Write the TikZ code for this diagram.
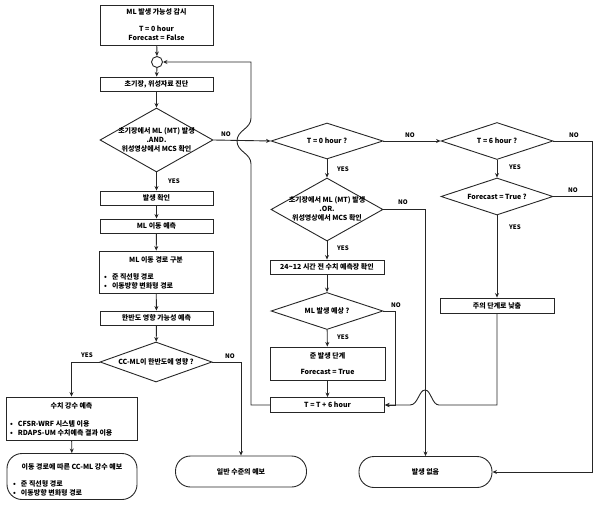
\documentclass[tikz,border=0pt]{standalone}
\usepackage{fontspec}
\setmainfont{Noto Sans CJK KR}
\usetikzlibrary{arrows.meta,shapes.geometric}
\begin{document}
\begin{tikzpicture}[x=1pt,y=-1pt,
  font=\fontsize{7}{9}\selectfont\bfseries,
  ln/.style={draw=black!85, line width=0.9pt},
  arr/.style={ln, -{Stealth[length=4.5pt,width=4pt]}},
  box/.style={ln, rectangle, inner sep=0pt, align=center},
  dia/.style={ln, diamond, inner sep=0pt},
  term/.style={ln, rectangle, rounded corners=15pt, inner sep=0pt, align=center},
  txt/.style={inner sep=0pt, align=center},
  lst/.style={inner sep=0pt, align=left, anchor=west},
  lab/.style={inner sep=0pt, font=\fontsize{6.2}{7}\selectfont\bfseries}
]
\useasboundingbox (0,0) rectangle (601,510);

% ---- left column ----
\node[box, minimum width=113pt, minimum height=40pt] (b1) at (156.5,25) {ML 발생 가능성 감시\\[8pt]T = 0 hour\\Forecast = False};
\node[ln, circle, minimum size=11pt, inner sep=0pt] (circ) at (157,62) {};
\node[box, minimum width=113pt, minimum height=14pt] (b2) at (156.5,84) {초기장, 위성자료 진단};
\node[dia, minimum width=113pt, minimum height=64pt] (d1) at (156.5,140) {};
\node[txt] (d1t) at (156.5,139.5) {초기장에서 ML (MT) 발생\\.AND.\\위성영상에서 MCS 확인};
\node[box, minimum width=113pt, minimum height=14pt] (b3) at (156.5,198) {발생 확인};
\node[box, minimum width=113pt, minimum height=14pt] (b4) at (156.5,226) {ML 이동 예측};
\node[box, minimum width=114pt, minimum height=42pt] (b5) at (156,272) {};
\node[txt] (b5t) at (156,260) {ML 이동 경로 구분};
\node[lst] (b5l) at (104,281.5) {•\hspace{5pt}준 직선형 경로\\•\hspace{5pt}이동방향 변화형 경로};
\node[box, minimum width=113pt, minimum height=14pt] (b6) at (156.5,318) {한반도 영향 가능성 예측};
\node[dia, minimum width=112pt, minimum height=40pt] (d2) at (156,362) {};
\node[txt] (d2t) at (156,362) {CC-ML이 한반도에 영향 ?};

\node[box, minimum width=131pt, minimum height=43pt] (b7) at (71.5,418.5) {};
\node[txt] (b7t) at (71.5,406) {수치 강수 예측};
\node[lst] (b7l) at (10,428) {•\hspace{5pt}CFSR-WRF 시스템 이용\\•\hspace{5pt}RDAPS-UM 수치예측 결과 이용};
\node[term, minimum width=130pt, minimum height=46pt] (t1) at (72,476.5) {};
\node[txt] (t1t) at (72,467) {이동 경로에 따른 CC-ML 강수 예보};
\node[lst] (t1l) at (13,488.5) {•\hspace{5pt}준 직선형 경로\\•\hspace{5pt}이동방향 변화형 경로};

\node[term, minimum width=131pt, minimum height=31pt] (t2) at (241,471.5) {일반 수준의 예보};

% ---- middle column ----
\node[dia, minimum width=112pt, minimum height=36pt] (d3) at (327,141) {};
\node[txt] (d3t) at (327,141) {T = 0 hour ?};
\node[dia, minimum width=112pt, minimum height=63pt] (d4) at (327,209.5) {};
\node[txt] (d4t) at (327,209) {초기장에서 ML (MT) 발생\\.OR.\\위성영상에서 MCS 확인};
\node[box, minimum width=114pt, minimum height=14pt] (b8) at (327,267) {24\textasciitilde12 시간 전 수치 예측장 확인};
\node[dia, minimum width=112pt, minimum height=37pt] (d5) at (327,311) {};
\node[txt] (d5t) at (327,311) {ML 발생 예상 ?};
\node[box, minimum width=115pt, minimum height=33pt] (b9) at (327.5,363.5) {준 발생 단계\\[7pt]Forecast = True};
\node[box, minimum width=114pt, minimum height=15pt] (b10) at (327.5,405) {T = T + 6 hour};
\node[term, minimum width=133pt, minimum height=31pt] (t3) at (425.5,472) {발생 없음};

% ---- right column ----
\node[dia, minimum width=112pt, minimum height=37pt] (d6) at (497,141) {};
\node[txt] (d6t) at (497,141) {T = 6 hour ?};
\node[dia, minimum width=112pt, minimum height=37pt] (d7) at (497,196.5) {};
\node[txt] (d7t) at (497,196.5) {Forecast = True ?};
\node[box, minimum width=114pt, minimum height=15pt] (b11) at (497,305.5) {주의 단계로 낮춤};

% ---- coordinates ----
\coordinate (lpA) at (251,62);
\coordinate (lpB) at (251,118);
\coordinate (lpC) at (251,164);
\coordinate (lpD) at (251,405);
\coordinate (hmA) at (439,405);
\coordinate (hmB) at (410,405);

% ---- connectors ----
\draw[arr] (b1) -- (circ);
\draw[arr] (circ) -- (b2);
\draw[arr] (b2) -- (d1);
\draw[arr] (d1) -- (b3);
\draw[arr] (b3) -- (b4);
\draw[arr] (b4) -- (b5);
\draw[arr] (b5) -- (b6);
\draw[arr] (b6) -- (d2);
\draw[arr] (d2.west) -| (b7.north);
\draw[arr] (d2.east) -| (t2.north);
\draw[arr] (b7) -- (t1);

\draw[arr] (d1.east) -- (d3.west);
\draw[arr] (b10.west) -- (lpD) -- (lpC) .. controls (251,153) and (237,152) .. (237,141)
   .. controls (237,130) and (251,129) .. (lpB) -- (lpA) -- (circ.east);

\draw[arr] (d3.east) -- (d6.west);
\draw[arr] (d3) -- (d4);
\draw[arr] (d4) -- (b8);
\draw[arr] (b8) -- (d5);
\draw[arr] (d5) -- (b9);
\draw[arr] (b9) -- (b10);
\draw[arr] (d4.east) -| (t3.north);
\draw[arr] (d5.east) -| (395,405) -- (b10.east);

\draw[arr] (d6) -- (d7);
\draw[arr] (d7) -- (b11);
\draw[arr] (d6.east) -- (592,141) |- (t3.east);
\draw[ln] (d7.east) -- (592,196.5);
\draw[arr] (b11.south) |- (hmA) .. controls (432,405) and (431,390) .. (425,390)
   .. controls (419,390) and (418,405) .. (hmB) -- (b10.east);

% ---- labels ----
\node[lab] (l1) at (226,134) {NO};
\node[lab] (l2) at (174,181) {YES};
\node[lab] (l3) at (87,355) {YES};
\node[lab] (l4) at (230,356) {NO};
\node[lab] (l5) at (410,135) {NO};
\node[lab] (l6) at (343,169) {YES};
\node[lab] (l7) at (403,202) {NO};
\node[lab] (l8) at (343,248) {YES};
\node[lab] (l9) at (396,305) {NO};
\node[lab] (l10) at (343,337) {YES};
\node[lab] (l11) at (574,135) {NO};
\node[lab] (l12) at (515,167) {YES};
\node[lab] (l13) at (573,190) {NO};
\node[lab] (l14) at (515,227) {YES};
\end{tikzpicture}
\end{document}
